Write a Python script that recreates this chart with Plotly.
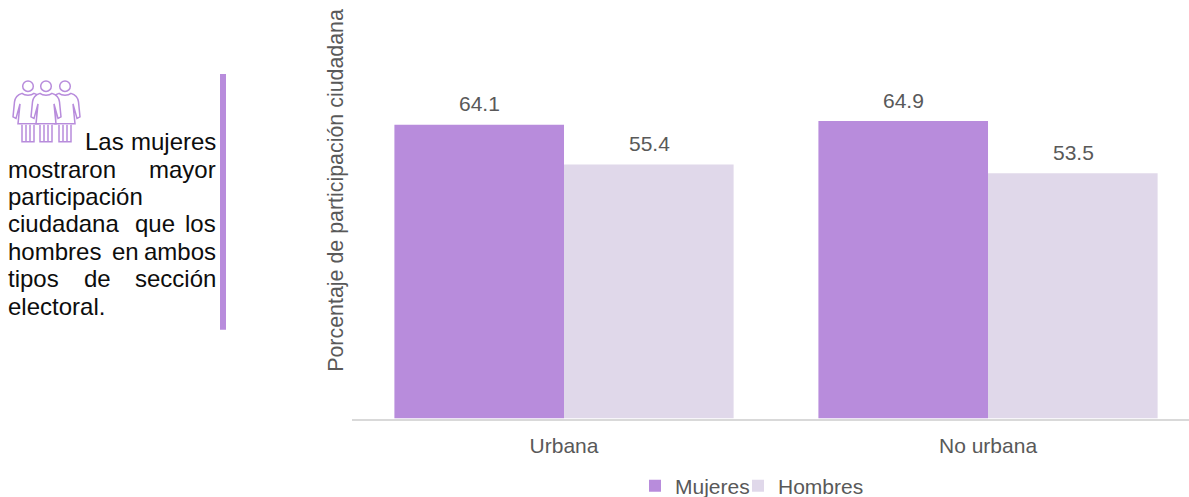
import plotly.graph_objects as go

W, H = 1189, 497
PLOT_H = 466  # paper height left above the container-anchored legends
categories = ["Urbana", "No urbana"]
mujeres = [64.1, 64.9]
hombres = [55.4, 53.5]
series_names = ["Mujeres", "Hombres"]
y_title = "Porcentaje de participación ciudadana"
# (word, x px, anchor, y px)
note_words = [
    ("Las", 84, "left", 142), ("mujeres", 217, "right", 142),
    ("mostraron", 7, "left", 170), ("mayor", 217, "right", 170),
    ("participación", 7, "left", 197),
    ("ciudadana", 7, "left", 224), ("que", 155, "center", 224), ("los", 217, "right", 224),
    ("hombres", 7, "left", 252), ("en", 125, "center", 252), ("ambos", 217, "right", 252),
    ("tipos", 7, "left", 279), ("de", 97, "center", 279), ("sección", 217, "right", 279),
    ("electoral.", 7, "left", 307),
]

PURPLE = "#B88CDC"
LIGHT = "#E0D8EA"
GREY = "#595959"
FONT = "Liberation Sans"

def px(x):
    return x / W
def py(y):
    return 1 - y / PLOT_H

fig = go.Figure()
annotations = []
for i, (name, vals, col, shift) in enumerate([(series_names[0], mujeres, PURPLE, -85),
                                             (series_names[1], hombres, LIGHT, 85)]):
    fig.add_trace(go.Bar(
        name=name, x=categories, y=vals, marker=dict(color=col, line_width=0),
        legend="legend" if i == 0 else "legend2", showlegend=True,
    ))
    for c, v in zip(categories, vals):
        annotations.append(dict(text=f"{v:.1f}", x=c, y=v, xref="x", yref="y", xshift=shift, yshift=21,
                                xanchor="center", yanchor="middle", showarrow=False,
                                font=dict(size=21, color=GREY, family=FONT)))

shapes = [dict(type="rect", xref="paper", yref="paper", x0=px(220), x1=px(226),
               y0=py(74), y1=py(330), fillcolor=PURPLE, line_width=0)]

def figure_paths(cx):
    X = lambda d: px(cx + d)
    Y = py
    head = dict(type="circle", xref="paper", yref="paper", x0=X(-5.3), x1=X(5.3), y0=Y(81), y1=Y(91.5),
                line=dict(color=PURPLE, width=1.5))
    body = (f"M{X(-6)},{Y(93.5)} C{X(-11)},{Y(95)} {X(-13)},{Y(98)} {X(-13.5)},{Y(102)} "
            f"L{X(-15)},{Y(117)} L{X(-12)},{Y(118.5)} L{X(-8)},{Y(104)} "
            f"L{X(-10)},{Y(124)} L{X(10)},{Y(124)} L{X(8)},{Y(104)} "
            f"L{X(12)},{Y(118.5)} L{X(15)},{Y(117)} L{X(13.5)},{Y(102)} "
            f"C{X(13)},{Y(98)} {X(11)},{Y(95)} {X(6)},{Y(93.5)} "
            f"C{X(3)},{Y(96)} {X(-3)},{Y(96)} {X(-6)},{Y(93.5)} Z")
    legs = (f"M{X(-6)},{Y(125)} L{X(-6)},{Y(142)} L{X(6)},{Y(142)} L{X(6)},{Y(125)} "
            f"M{X(-2)},{Y(125)} L{X(-2)},{Y(142)} M{X(2)},{Y(125)} L{X(2)},{Y(142)}")
    out = [head]
    for p in (body, legs):
        out.append(dict(type="path", xref="paper", yref="paper", path=p,
                        line=dict(color=PURPLE, width=1.5), fillcolor="white"))
    return out

for cx in (28, 65, 46):
    shapes += figure_paths(cx)

annotations += [dict(text=w, x=px(x), y=py(y), xref="paper", yref="paper", xanchor=a, yanchor="middle",
                     showarrow=False, borderpad=0, font=dict(size=24, color="#0D0D0D", family=FONT))
                for w, x, a, y in note_words]
annotations.append(dict(text=y_title, x=px(336), y=py(191), xref="paper", yref="paper", textangle=-90,
                        xanchor="center", yanchor="middle", showarrow=False,
                        font=dict(size=21.4, color=GREY, family=FONT)))

def legend_at(text_x):
    return dict(orientation="h", x=(text_x - 40) / W, xanchor="left", y=1 - 486 / H, yanchor="middle",
                yref="container", bgcolor="rgba(0,0,0,0)",
                font=dict(size=21, color=GREY, family=FONT), itemwidth=30)

fig.update_layout(
    width=W, height=H, autosize=False, margin=dict(l=0, r=0, t=0, b=0, pad=0),
    paper_bgcolor="white", plot_bgcolor="white",
    barmode="group", bargap=0.2, bargroupgap=0,
    font=dict(family=FONT, color=GREY, size=21),
    xaxis=dict(domain=[352 / W, 1], range=[-0.5, 1.474], showgrid=False, ticks="",
               showline=True, linecolor="#D9D9D9", linewidth=2, zeroline=False, ticklabelstandoff=7,
               tickfont=dict(size=21, color=GREY, family=FONT)),
    yaxis=dict(domain=[1 - 419 / PLOT_H, 1], range=[0, 91.3], visible=False),
    legend=legend_at(675), legend2=legend_at(778),
    shapes=shapes, annotations=annotations,
)
fig.write_html("out.html", config=dict(displayModeBar=False),
               post_script="document.body.style.margin='0';document.documentElement.style.overflow='hidden';")
